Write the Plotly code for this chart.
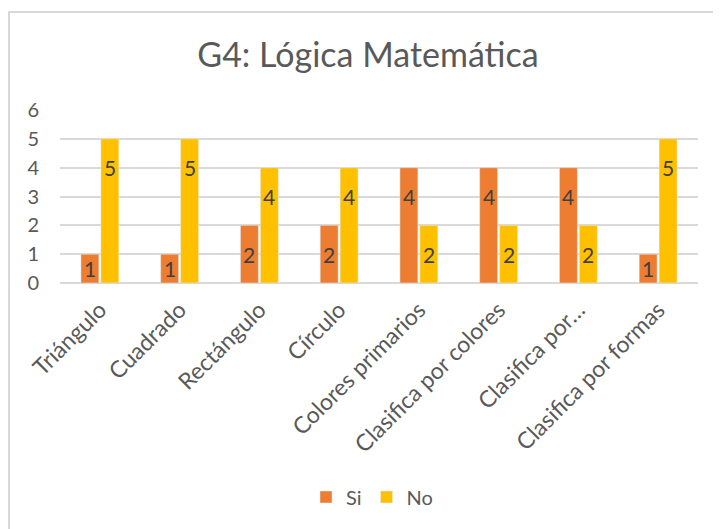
import plotly.graph_objects as go

categories = ["Triángulo", "Cuadrado", "Rectángulo", "Círculo", "Colores primarios",
              "Clasifica por colores", "Clasifica por…", "Clasifica por formas"]
si_values = [1, 1, 2, 2, 4, 4, 4, 1]
no_values = [5, 5, 4, 4, 2, 2, 2, 5]
y_ticks = [0, 1, 2, 3, 4, 5, 6]

FONT = "Lato, Calibri, 'Open Sans', sans-serif"
OFF = 8  # page body margin offset
W, H = 721, 529
ML, MR, MT, MB = 60 - OFF, 23 + OFF, 110 - OFF, 246 + OFF
PW, PH = W - ML - MR, H - MT - MB

fig = go.Figure()
fig.add_trace(go.Bar(name="Si", x=categories, y=si_values, marker_color="#ED7D31"))
fig.add_trace(go.Bar(name="No", x=categories, y=no_values, marker_color="#FFC000"))

annotations = []
for trace_idx, vals in enumerate([si_values, no_values]):
    for i, v in enumerate(vals):
        ypos = v - 1 if v >= 2 else v / 2
        annotations.append(dict(
            x=i + (-0.125 if trace_idx == 0 else 0.125), xref="x", y=ypos, yref="y",
            text=str(v), showarrow=False,
            font=dict(family=FONT, size=21, color="#404040"),
        ))

# convert reference screen pixels to paper coords
px2x = lambda p: (p - OFF - ML) / PW
px2y = lambda p: (H - MB - (p - OFF)) / PH
shapes = [dict(type="rect", xref="paper", yref="paper",
               x0=px2x(9), x1=px2x(780), y0=px2y(580), y1=px2y(12),
               line=dict(color="#D9D9D9", width=2), fillcolor="rgba(0,0,0,0)", layer="below")]

fig.update_layout(
    width=W, height=H,
    margin=dict(l=ML, r=MR, t=MT, b=MB, autoexpand=False),
    paper_bgcolor="white", plot_bgcolor="white",
    barmode="group", bargap=0.5, bargroupgap=0.1,
    title=dict(text="G4: Lógica Matemática", x=px2x(368), xref="paper", xanchor="center",
               y=(H - (55 - OFF)) / H, yanchor="middle", yref="container",
               font=dict(family=FONT, size=34, color="#595959")),
    font=dict(family=FONT, color="#595959"),
    xaxis=dict(tickangle=-45, tickfont=dict(size=23, color="#595959"),
               showgrid=False, showline=False, ticks="", automargin=False,
               ticklabelstandoff=8),
    yaxis=dict(range=[0, 6], tickvals=y_ticks, tickfont=dict(size=20, color="#595959"),
               showgrid=True, gridcolor="#D9D9D9", gridwidth=1.5,
               zeroline=True, zerolinecolor="#D9D9D9", zerolinewidth=1.5,
               showline=False, ticks="", ticklabelstandoff=20, automargin=False),
    legend=dict(orientation="h", x=px2x(372), xref="paper", xanchor="center",
                y=(H - (497 - OFF)) / H, yref="container", yanchor="middle", itemwidth=30,
                font=dict(size=20, color="#595959")),
    annotations=annotations,
    shapes=shapes,
)

fig.write_html("out.html")
